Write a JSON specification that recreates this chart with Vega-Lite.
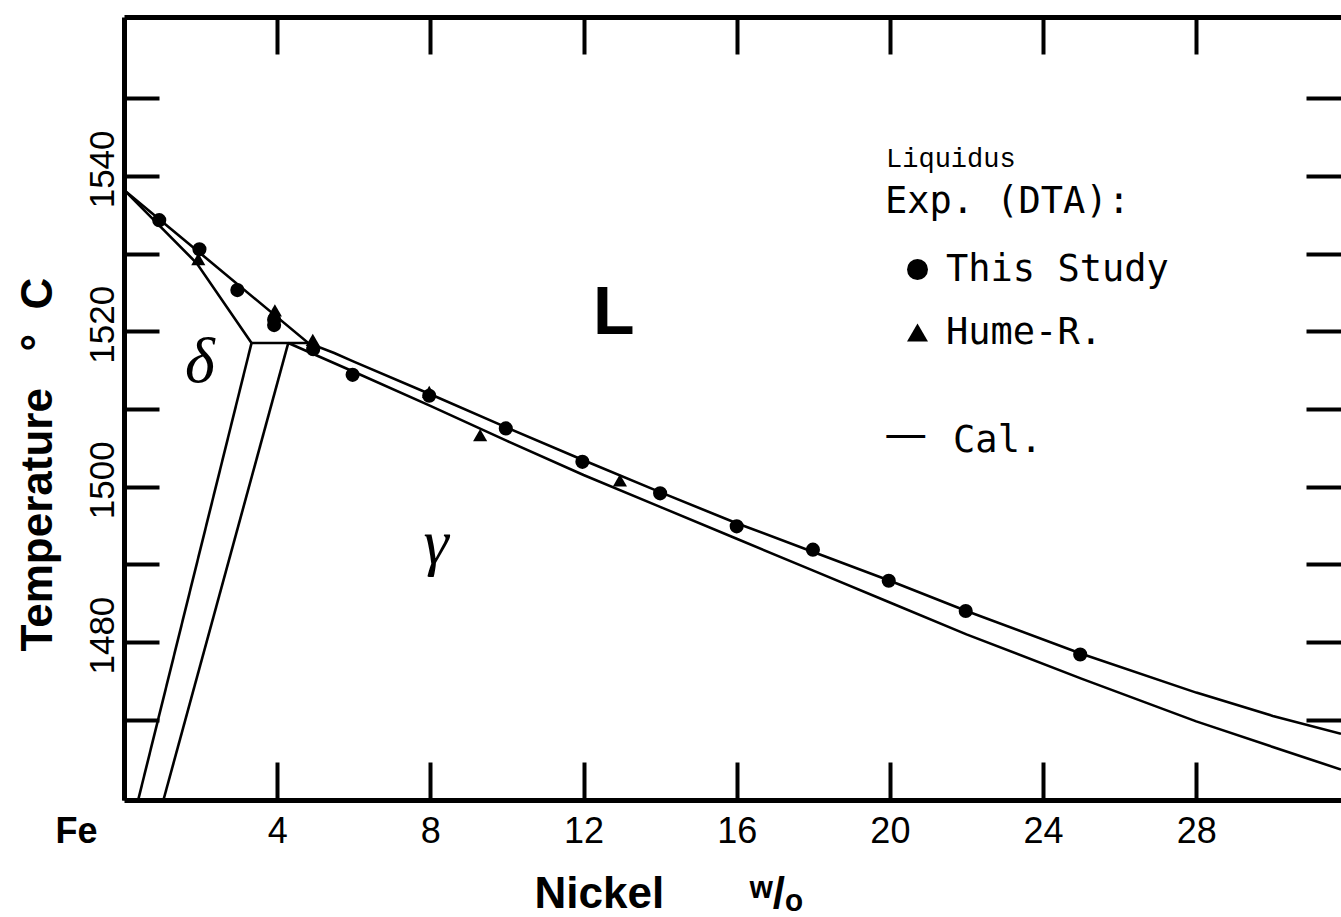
{
  "$schema": "https://vega.github.io/schema/vega-lite/v6.json",
  "width": 1217,
  "height": 783,
  "autosize": {"type": "none"},
  "padding": {"left": 124, "top": 17, "right": 0, "bottom": 117},
  "background": "white",
  "config": {
    "view": {"stroke": null},
    "axis": {"grid": false, "domainColor": "black", "tickColor": "black", "labelColor": "black", "titleColor": "black"}
  },
  "datasets": {
    "lines": [
      {"curve": "liquidus", "ni": 0, "temp": 1538.2},
      {"curve": "liquidus", "ni": 4.81, "temp": 1518.5},
      {"curve": "liquidus", "ni": 5.49, "temp": 1517.2},
      {"curve": "liquidus", "ni": 6, "temp": 1516.1},
      {"curve": "liquidus", "ni": 8, "temp": 1511.9},
      {"curve": "liquidus", "ni": 10, "temp": 1507.6},
      {"curve": "liquidus", "ni": 12, "temp": 1503.4},
      {"curve": "liquidus", "ni": 14, "temp": 1499.3},
      {"curve": "liquidus", "ni": 16, "temp": 1495.3},
      {"curve": "liquidus", "ni": 18, "temp": 1491.6},
      {"curve": "liquidus", "ni": 20, "temp": 1487.9},
      {"curve": "liquidus", "ni": 22, "temp": 1484.0},
      {"curve": "liquidus", "ni": 25, "temp": 1478.5},
      {"curve": "liquidus", "ni": 28, "temp": 1473.5},
      {"curve": "liquidus", "ni": 30, "temp": 1470.5},
      {"curve": "liquidus", "ni": 31.78, "temp": 1468.2},
      {"curve": "delta_solidus", "ni": 0, "temp": 1538.2},
      {"curve": "delta_solidus", "ni": 1.9, "temp": 1528.75},
      {"curve": "delta_solidus", "ni": 3.33, "temp": 1518.5},
      {"curve": "peritectic", "ni": 3.33, "temp": 1518.5},
      {"curve": "peritectic", "ni": 4.81, "temp": 1518.5},
      {"curve": "gamma_solidus", "ni": 4.29, "temp": 1518.5},
      {"curve": "gamma_solidus", "ni": 6, "temp": 1514.8},
      {"curve": "gamma_solidus", "ni": 8, "temp": 1510.4},
      {"curve": "gamma_solidus", "ni": 10, "temp": 1505.9},
      {"curve": "gamma_solidus", "ni": 12, "temp": 1501.5},
      {"curve": "gamma_solidus", "ni": 14, "temp": 1497.4},
      {"curve": "gamma_solidus", "ni": 16, "temp": 1493.3},
      {"curve": "gamma_solidus", "ni": 18, "temp": 1489.2},
      {"curve": "gamma_solidus", "ni": 20, "temp": 1485.1},
      {"curve": "gamma_solidus", "ni": 22, "temp": 1481.0},
      {"curve": "gamma_solidus", "ni": 25, "temp": 1475.3},
      {"curve": "gamma_solidus", "ni": 28, "temp": 1469.8},
      {"curve": "gamma_solidus", "ni": 30, "temp": 1466.5},
      {"curve": "gamma_solidus", "ni": 31.78, "temp": 1463.6},
      {"curve": "delta_delta_gamma", "ni": 3.33, "temp": 1518.5},
      {"curve": "delta_delta_gamma", "ni": 0.37, "temp": 1459.68},
      {"curve": "gamma_delta_gamma", "ni": 4.29, "temp": 1518.5},
      {"curve": "gamma_delta_gamma", "ni": 1.03, "temp": 1459.68}
    ],
    "points": [
      {"source": "This Study", "ni": 0.92, "temp": 1534.3},
      {"source": "This Study", "ni": 1.97, "temp": 1530.55},
      {"source": "This Study", "ni": 2.96, "temp": 1525.3},
      {"source": "This Study", "ni": 3.92, "temp": 1521.5},
      {"source": "This Study", "ni": 3.92, "temp": 1520.8},
      {"source": "This Study", "ni": 4.94, "temp": 1517.7},
      {"source": "This Study", "ni": 5.97, "temp": 1514.4},
      {"source": "This Study", "ni": 7.97, "temp": 1511.7},
      {"source": "This Study", "ni": 9.97, "temp": 1507.5},
      {"source": "This Study", "ni": 11.97, "temp": 1503.2},
      {"source": "This Study", "ni": 14.0, "temp": 1499.15},
      {"source": "This Study", "ni": 16.0, "temp": 1494.9},
      {"source": "This Study", "ni": 17.99, "temp": 1491.9},
      {"source": "This Study", "ni": 19.97, "temp": 1487.9},
      {"source": "This Study", "ni": 21.98, "temp": 1484.0},
      {"source": "This Study", "ni": 24.97, "temp": 1478.4},
      {"source": "Hume-R.", "ni": 1.94, "temp": 1529.3},
      {"source": "Hume-R.", "ni": 3.94, "temp": 1522.7},
      {"source": "Hume-R.", "ni": 4.93, "temp": 1518.9},
      {"source": "Hume-R.", "ni": 7.97, "temp": 1512.2},
      {"source": "Hume-R.", "ni": 9.3, "temp": 1506.65},
      {"source": "Hume-R.", "ni": 12.95, "temp": 1500.8}
    ]
  },
  "layer": [
    {
      "data": {"name": "lines"},
      "mark": {"type": "line", "color": "black", "strokeWidth": 2.6},
      "encoding": {
        "x": {
          "field": "ni", "type": "quantitative",
          "scale": {"domain": [0, 31.78], "nice": false, "zero": false},
          "axis": {
            "orient": "bottom",
            "values": [0, 4, 8, 12, 16, 20, 24, 28],
            "format": "d",
            "labelExpr": "datum.value == 0 ? 'Fe' : datum.label",
            "domainWidth": 5,
            "tickWidth": 4,
            "tickSize": -38,
            "labelFont": "Liberation Sans",
            "labelFontSize": 36,
            "labelPadding": 52,
            "labelFlush": false,
            "labelOverlap": false,
            "labelFontWeight": {"condition": {"test": "datum.value == 0", "value": "bold"}, "value": "normal"},
            "labelAlign": {"condition": {"test": "datum.value == 0", "value": "right"}, "value": "center"},
            "labelOffset": {"condition": {"test": "datum.value == 0", "value": -27}, "value": 0},
            "title": "Nickel\u00a0\u00a0\u00a0\u00a0\u00a0\u00a0\u00a0ʷ/ₒ",
            "titleFont": "Liberation Sans",
            "titleFontSize": 44,
            "titleFontWeight": "bold",
            "titleAlign": "left",
            "titleAnchor": "start",
            "titleBaseline": "alphabetic",
            "titleX": 410,
            "titleY": 107
          }
        },
        "y": {
          "field": "temp", "type": "quantitative",
          "scale": {"domain": [1459.68, 1560.45], "nice": false, "zero": false},
          "axis": {
            "orient": "left",
            "values": [1470, 1480, 1490, 1500, 1510, 1520, 1530, 1540, 1550],
            "format": "d",
            "labelExpr": "datum.value % 20 == 0 ? datum.label : ''",
            "domainWidth": 5,
            "tickWidth": 4,
            "tickSize": -35,
            "labelAngle": 270,
            "labelAlign": "center",
            "labelBaseline": "alphabetic",
            "labelPadding": 46,
            "labelOffset": -7,
            "labelFont": "Liberation Sans",
            "labelFontSize": 35,
            "labelOverlap": false,
            "title": "Temperature\u00a0\u00a0\u00a0°\u00a0\u00a0C",
            "titleFont": "Liberation Sans",
            "titleFontSize": 44,
            "titleFontWeight": "bold",
            "titleAngle": 270,
            "titleAlign": "center",
            "titleBaseline": "alphabetic",
            "titleX": -73,
            "titleY": 447
          }
        },
        "detail": {"field": "curve", "type": "nominal"}
      }
    },
    {
      "data": {"name": "points"},
      "mark": {"type": "point", "filled": true, "color": "black", "opacity": 1, "size": 200},
      "encoding": {
        "x": {
          "field": "ni", "type": "quantitative",
          "axis": {
            "orient": "top",
            "values": [4, 8, 12, 16, 20, 24, 28],
            "labels": false,
            "domainWidth": 5,
            "tickWidth": 4,
            "tickSize": -37,
            "title": null
          }
        },
        "y": {
          "field": "temp", "type": "quantitative",
          "axis": {
            "orient": "right",
            "values": [1470, 1480, 1490, 1500, 1510, 1520, 1530, 1540, 1550],
            "labels": false,
            "domain": false,
            "tickWidth": 4,
            "tickSize": -35,
            "title": null
          }
        },
        "shape": {
          "field": "source", "type": "nominal",
          "scale": {"domain": ["This Study", "Hume-R."], "range": ["circle", "triangle-up"]},
          "legend": {
            "orient": "none",
            "legendX": 775,
            "legendY": 234,
            "title": null,
            "padding": 0,
            "labelFont": "DejaVu Sans Mono",
            "labelFontSize": 37,
            "labelColor": "black",
            "labelOffset": 10,
            "labelLimit": 500,
            "symbolSize": 440,
            "symbolFillColor": "black",
            "symbolStrokeColor": "black",
            "symbolStrokeWidth": 0,
            "rowPadding": 25
          }
        }
      }
    },
    {
      "data": {"values": [{"ni": 19.9, "temp": 1541.15, "text": "Liquidus"}]},
      "mark": {"type": "text", "font": "Liberation Mono", "fontSize": 27, "align": "left", "baseline": "alphabetic", "color": "black"},
      "encoding": {
        "x": {"field": "ni", "type": "quantitative", "axis": null},
        "y": {"field": "temp", "type": "quantitative", "axis": null},
        "text": {"field": "text"}
      }
    },
    {
      "data": {"values": [{"ni": 19.87, "temp": 1535.2, "text": "Exp. (DTA):"}, {"ni": 21.65, "temp": 1504.47, "text": "Cal."}]},
      "mark": {"type": "text", "font": "DejaVu Sans Mono", "fontSize": 37, "align": "left", "baseline": "alphabetic", "color": "black"},
      "encoding": {
        "x": {"field": "ni", "type": "quantitative", "axis": null},
        "y": {"field": "temp", "type": "quantitative", "axis": null},
        "text": {"field": "text"}
      }
    },
    {
      "data": {"values": [{"ni": 19.85, "temp": 1505.0, "text": "—"}]},
      "mark": {"type": "text", "font": "DejaVu Sans", "fontSize": 43, "align": "left", "baseline": "alphabetic", "color": "black"},
      "encoding": {
        "x": {"field": "ni", "type": "quantitative", "axis": null},
        "y": {"field": "temp", "type": "quantitative", "axis": null},
        "text": {"field": "text"}
      }
    },
    {
      "data": {"values": [{"ni": 12.25, "temp": 1519.65, "text": "L"}]},
      "mark": {"type": "text", "font": "Liberation Sans", "fontSize": 68, "fontWeight": "bold", "align": "left", "baseline": "alphabetic", "color": "black"},
      "encoding": {
        "x": {"field": "ni", "type": "quantitative", "axis": null},
        "y": {"field": "temp", "type": "quantitative", "axis": null},
        "text": {"field": "text"}
      }
    },
    {
      "data": {"values": [{"ni": 1.98, "temp": 1513.5, "text": "δ"}, {"ni": 8.15, "temp": 1490.2, "text": "γ"}]},
      "mark": {"type": "text", "font": "Liberation Serif", "fontSize": 64, "fontStyle": "italic", "align": "center", "baseline": "alphabetic", "color": "black"},
      "encoding": {
        "x": {"field": "ni", "type": "quantitative", "axis": null},
        "y": {"field": "temp", "type": "quantitative", "axis": null},
        "text": {"field": "text"}
      }
    }
  ],
  "resolve": {"axis": {"x": "independent", "y": "independent"}}
}
